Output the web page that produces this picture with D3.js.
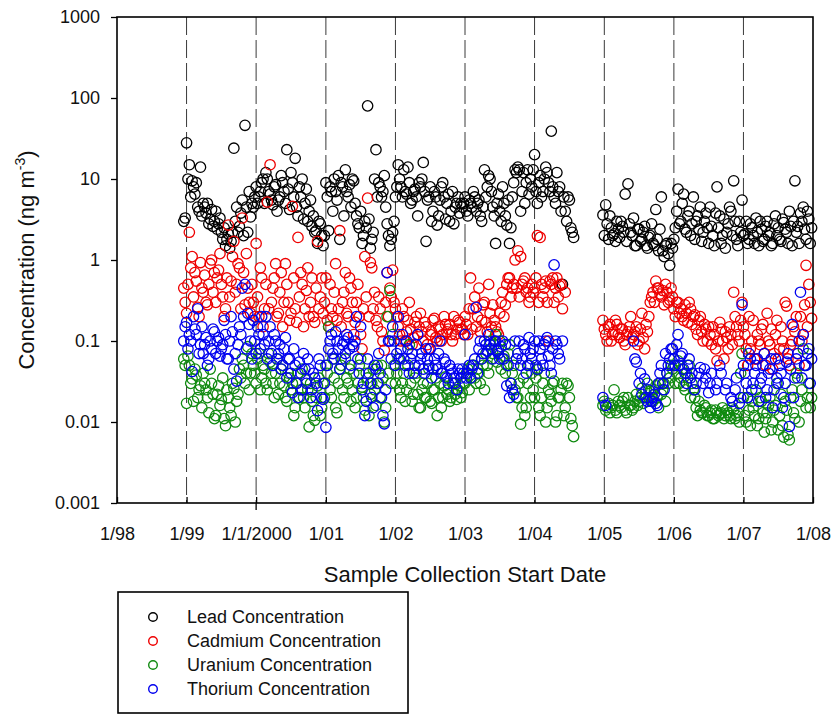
<!DOCTYPE html>
<html>
<head>
<meta charset="utf-8">
<script src="https://cdn.jsdelivr.net/npm/d3@7"></script>
<style>
  html, body { margin: 0; padding: 0; background: #fff; }
  svg { display: block; font-family: "Liberation Sans", Arial, sans-serif; }
</style>
</head>
<body>
<svg id="chart" width="836" height="715"></svg>
<script>
// ---------------- DATA ----------------
// Sample collection start dates (decimal years); second block = interleaved samples
const sampleDates = [
  1998.96,1999.00,1999.04,1999.08,1999.12,1999.16,1999.20,1999.24,1999.28,1999.32,1999.36,1999.40,1999.44,1999.48,1999.52,1999.56,1999.60,1999.64,1999.68,1999.72,1999.76,1999.80,1999.84,1999.88,1999.92,
  1999.96,2000.00,2000.04,2000.08,2000.12,2000.16,2000.20,2000.24,2000.28,2000.32,2000.36,2000.40,2000.44,2000.48,2000.52,2000.56,2000.60,2000.64,2000.68,2000.72,2000.76,2000.80,2000.84,2000.88,2000.92,
  2000.96,2001.00,2001.04,2001.08,2001.12,2001.16,2001.20,2001.24,2001.28,2001.32,2001.36,2001.40,2001.44,2001.48,2001.52,2001.56,2001.60,2001.64,2001.68,2001.72,2001.76,2001.80,2001.84,2001.88,2001.92,
  2001.96,2002.00,2002.04,2002.08,2002.12,2002.16,2002.20,2002.24,2002.28,2002.32,2002.36,2002.40,2002.44,2002.48,2002.52,2002.56,2002.60,2002.64,2002.68,2002.72,2002.76,2002.80,2002.84,2002.88,2002.92,
  2002.96,2003.00,2003.04,2003.08,2003.12,2003.16,2003.20,2003.24,2003.28,2003.32,2003.36,2003.40,2003.44,2003.48,2003.52,2003.56,2003.60,2003.64,2003.68,2003.72,2003.76,2003.80,2003.84,2003.88,2003.92,
  2003.96,2004.00,2004.04,2004.08,2004.12,2004.16,2004.20,2004.24,2004.28,2004.32,2004.36,2004.40,2004.44,2004.48,2004.52,2004.56,
  2004.98,2005.02,2005.06,2005.10,2005.14,2005.18,2005.22,2005.26,2005.30,2005.34,2005.38,2005.42,2005.46,2005.50,2005.54,2005.58,2005.62,2005.66,2005.70,2005.74,2005.78,2005.82,2005.86,2005.90,2005.94,
  2005.98,2006.02,2006.06,2006.10,2006.14,2006.18,2006.22,2006.26,2006.30,2006.34,2006.38,2006.42,2006.46,2006.50,2006.54,2006.58,2006.62,2006.66,2006.70,2006.74,2006.78,2006.82,2006.86,2006.90,2006.94,
  2006.98,2007.02,2007.06,2007.10,2007.14,2007.18,2007.22,2007.26,2007.30,2007.34,2007.38,2007.42,2007.46,2007.50,2007.54,2007.58,2007.62,2007.66,2007.70,2007.74,2007.78,2007.82,2007.86,2007.90,2007.94,2007.98,
  // interleaved
  1998.98,1999.02,1999.06,1999.10,1999.14,1999.18,1999.22,1999.26,1999.30,1999.34,1999.38,1999.42,1999.46,1999.50,1999.54,1999.58,1999.62,1999.66,1999.70,1999.74,1999.78,1999.82,1999.86,1999.90,1999.94,
  1999.98,2000.02,2000.06,2000.10,2000.14,2000.18,2000.22,2000.26,2000.30,2000.34,2000.38,2000.42,2000.46,2000.50,2000.54,2000.58,2000.62,2000.66,2000.70,2000.74,2000.78,2000.82,2000.86,2000.90,2000.94,
  2000.98,2001.02,2001.06,2001.10,2001.14,2001.18,2001.22,2001.26,2001.30,2001.34,2001.38,2001.42,2001.46,2001.50,2001.54,2001.58,2001.62,2001.66,2001.70,2001.74,2001.78,2001.82,2001.86,2001.90,2001.94,
  2001.98,2002.02,2002.06,2002.10,2002.14,2002.18,2002.22,2002.26,2002.30,2002.34,2002.38,2002.42,2002.46,2002.50,2002.54,2002.58,2002.62,2002.66,2002.70,2002.74,2002.78,2002.82,2002.86,2002.90,2002.94,
  2002.98,2003.02,2003.06,2003.10,2003.14,2003.18,2003.22,2003.26,2003.30,2003.34,2003.38,2003.42,2003.46,2003.50,2003.54,2003.58,2003.62,2003.66,2003.70,2003.74,2003.78,2003.82,2003.86,2003.90,2003.94,
  2003.98,2004.02,2004.06,2004.10,2004.14,2004.18,2004.22,2004.26,2004.30,2004.34,2004.38,2004.42,2004.46,2004.50,2004.54,
  2005.00,2005.04,2005.08,2005.12,2005.16,2005.20,2005.24,2005.28,2005.32,2005.36,2005.40,2005.44,2005.48,2005.52,2005.56,2005.60,2005.64,2005.68,2005.72,2005.76,2005.80,2005.84,2005.88,2005.92,2005.96,
  2006.00,2006.04,2006.08,2006.12,2006.16,2006.20,2006.24,2006.28,2006.32,2006.36,2006.40,2006.44,2006.48,2006.52,2006.56,2006.60,2006.64,2006.68,2006.72,2006.76,2006.80,2006.84,2006.88,2006.92,2006.96,
  2007.00,2007.04,2007.08,2007.12,2007.16,2007.20,2007.24,2007.28,2007.32,2007.36,2007.40,2007.44,2007.48,2007.52,2007.56,2007.60,2007.64,2007.68,2007.72,2007.76,2007.80,2007.84,2007.88,2007.92,2007.96
];

// Concentrations (ng m^-3)
const lead = [
  3.0,28,15,9.5,6.5,4.5,14,5.0,3.8,2.8,4.2,3.0,2.4,3.3,1.8,1.5,2.1,1.7,24,4.5,2.6,5.5,46,2.2,3.4,
  4.5,8,6,9,5,10,6.5,4.8,8.5,5.5,11,7,23,4.2,9,18,3.5,6,3.2,7.5,4,2.6,2.2,1.6,2.8,
  1.5,9,2.3,7,10,5.5,1.8,8,13,6,4.5,9.5,3.5,2.5,1.6,3,80,1.4,2.2,23,9,6,11,2.8,1.5,
  2.2,6,15,8,13,6.5,9,5.5,7.5,3.5,8,16,1.7,6,3,7,2.7,5.5,9,3.2,6.5,4,2.8,5,3.8,
  4.5,6,3.5,5,7,4,5.5,3,13,8,10,4.5,1.6,6.5,3,5,2.7,1.6,6,13,14,4,12,9,6.5,
  8,20,5,11,7,14,9,39,6,12,8,0.5,4,6,2.5,1.9,
  3.6,4.8,1.8,2.5,2.1,3,1.9,2.6,6.5,8.7,2.2,3.3,1.5,2.4,1.8,2.6,1.4,2,1.6,4.2,1.3,6,1.1,1.6,0.86,
  1.4,2.5,7.5,3,6.5,2.2,4,2.8,1.8,3.5,4.5,2.2,3.8,1.6,2.6,1.5,8,3.5,2,1.4,2.8,4,9.5,1.8,3,
  5.5,2.1,1.6,2.8,2,3.3,1.5,2.4,1.8,3,2.2,1.6,3.5,2.5,1.7,2.9,2.2,4,1.5,9.5,2.6,3.8,4.5,1.8,3.2,2.5,
  3.3,10,6,8,9,4,3.5,4.5,5,3.2,2.6,4,2.8,2.2,2.5,1.8,1.4,2.2,3,2.2,3.8,2,4.5,7,5,
  6,5,7,10,12,7,5.5,8,4,6,9,5,7.5,12,6,4.5,8,10,5,3,5.5,3.5,2.3,3,2,
  2,6,8,4,7,11,9,3.5,7,8.5,10,5,2.8,4,2,2.5,3.2,1.8,10,6,8,7,4.5,2,1.8,
  3,8,10,6,7,14,5,7,6,9,10,7,5.5,8,4,6,3.5,8,6,5,3,7,4.5,6,5,
  5,4,5.5,4.5,6,5,3.5,4.5,6,11,7,3.5,5,4,8,3.5,5.5,2.5,9,12,13,7,5,13,10,
  13,7,9,6,10,12,7,8,5,7,4,6,3,5.5,2.2,
  2,2.8,3.5,2,1.7,2.4,3,2.2,1.7,2.8,2,1.5,2.4,1.7,2.2,1.5,1.9,2.8,1.5,1.8,2.4,1.3,1.5,1.2,1.6,
  1.8,4,2.8,5,2.4,3.5,2,6,3,2.4,1.7,3,2.5,4.5,2,3.8,2.5,1.6,3.2,2.2,4.5,2,3,1.5,2.2,
  2,3,1.8,2.5,1.6,2.2,3,1.7,2.6,2,1.5,2.8,2,1.8,3.2,2.4,1.6,2.6,3,2.2,1.6,3,2.4,4,1.6
];
const cadmium = [
  0.45,0.22,2.2,1.1,0.7,0.26,0.93,0.4,0.3,0.5,1.0,0.7,0.6,1.2,0.35,0.25,2.7,0.55,1.7,0.5,0.8,3.3,0.28,0.45,0.22,
  0.3,1.6,0.2,0.6,0.25,5.2,15,0.45,0.9,0.22,0.7,0.3,0.5,0.18,4.6,0.25,1.9,0.7,0.15,0.42,0.2,0.6,0.17,1.7,0.35,
  0.22,0.6,0.15,0.25,0.4,0.18,2.3,0.3,0.7,0.2,0.45,0.12,0.3,0.2,0.08,1.1,5.8,0.93,0.25,0.18,0.35,0.13,0.077,0.7,0.45,
  0.75,0.25,0.15,0.1,0.2,0.13,0.3,0.09,0.17,0.12,0.22,0.1,0.15,0.08,0.13,0.19,0.1,0.14,0.12,0.16,0.14,0.12,0.2,0.14,0.17,
  0.14,0.2,0.12,0.6,0.25,0.15,0.45,0.18,0.3,0.13,0.22,0.28,0.15,0.12,0.3,0.2,0.5,0.6,0.45,1.0,1.3,1.1,0.55,0.4,0.3,
  0.5,0.45,2.0,1.9,0.35,0.55,0.1,0.5,0.3,0.6,0.48,0.25,0.4,null,null,null,
  0.18,0.12,0.15,0.1,0.13,0.16,0.11,0.14,0.09,0.13,0.2,0.12,0.15,0.1,0.22,0.08,0.13,0.3,0.4,0.55,0.45,0.35,0.28,0.4,0.32,
  0.35,0.2,0.3,0.25,0.18,0.22,0.3,0.16,0.21,0.12,0.2,0.1,0.14,0.15,0.09,0.12,0.057,0.17,0.1,0.13,0.08,0.12,0.4,0.15,0.1,
  0.3,0.12,0.05,0.08,0.18,0.06,0.1,0.14,0.07,0.22,0.09,0.045,0.12,0.06,0.15,0.08,0.27,0.05,0.1,0.13,0.07,0.2,0.12,0.86,0.5,0.19,
  0.3,0.5,0.8,0.35,0.55,0.2,0.45,0.65,0.28,0.9,0.4,0.3,0.75,0.5,0.2,0.6,0.35,1.1,0.4,0.9,0.25,0.7,1.2,0.3,0.5,
  0.2,0.35,0.8,0.15,0.5,0.25,0.3,0.6,0.2,0.4,0.15,0.9,0.3,0.22,0.6,0.17,0.35,0.5,0.25,0.8,0.3,0.2,0.45,0.25,0.6,
  0.3,0.18,0.5,0.2,0.9,0.25,0.15,0.4,0.22,0.6,0.3,0.17,0.5,0.12,0.25,0.35,0.2,0.8,0.4,0.15,0.25,0.1,0.3,0.2,0.35,
  0.3,0.2,0.12,0.25,0.1,0.18,0.14,0.11,0.2,0.15,0.13,0.17,0.09,0.12,0.18,0.11,0.15,0.1,0.2,0.13,0.16,0.1,0.12,0.18,0.14,
  0.12,0.16,0.25,0.14,0.35,0.2,0.13,0.28,0.17,0.5,0.15,0.18,0.13,0.22,0.4,0.28,0.6,0.35,0.5,0.45,0.35,0.5,0.6,0.45,0.35,
  0.4,0.6,0.3,0.5,0.45,0.3,0.55,0.6,0.45,0.35,0.5,null,null,null,null,
  0.14,0.1,0.16,0.12,0.18,0.12,0.14,0.1,0.12,0.15,0.11,0.13,0.09,0.14,0.11,0.16,0.2,0.35,0.3,0.45,0.38,0.42,0.5,0.3,0.45,
  0.25,0.3,0.22,0.2,0.28,0.17,0.25,0.2,0.14,0.18,0.13,0.16,0.1,0.12,0.15,0.08,0.1,0.14,0.06,0.11,0.15,0.09,0.2,0.12,0.18,
  0.15,0.08,0.2,0.1,0.06,0.12,0.09,0.16,0.05,0.1,0.14,0.07,0.18,0.08,0.1,0.3,0.06,0.09,0.15,0.2,0.05,0.1,0.28,0.15,0.3
];
const uranium = [
  0.06,0.017,0.05,0.034,0.045,0.02,0.028,0.04,0.025,0.013,0.03,0.011,0.022,0.016,0.035,0.009,0.02,0.012,0.026,0.018,0.045,0.06,0.03,0.085,0.04,
  0.05,0.03,0.07,0.035,0.045,0.025,0.055,0.03,0.04,0.022,0.045,0.028,0.018,0.035,0.03,0.015,0.04,0.025,0.02,0.033,0.0087,0.018,0.0105,0.028,0.012,
  0.03,0.05,0.15,0.02,0.035,0.013,0.045,0.025,0.06,0.03,0.018,0.04,0.02,0.05,0.027,0.014,0.035,0.022,0.045,0.016,0.03,0.05,0.01,0.2,0.42,
  0.12,0.03,0.06,0.02,0.04,0.025,0.09,0.018,0.035,0.022,0.015,0.03,0.02,0.045,0.017,0.025,0.012,0.03,0.02,0.036,0.025,0.02,0.03,0.019,0.028,
  0.023,0.03,0.045,0.035,0.05,0.03,0.04,0.06,0.025,0.05,0.1,0.07,0.12,0.08,0.045,0.065,0.05,0.09,0.04,0.025,0.02,0.0094,0.035,0.015,0.05,
  0.04,0.02,0.044,0.012,0.03,0.01,0.025,0.018,0.032,0.012,0.02,0.03,0.015,0.028,0.011,0.0066,
  0.016,0.014,0.017,0.015,0.025,0.013,0.016,0.018,0.014,0.02,0.016,0.015,0.022,0.018,0.026,0.02,0.03,0.024,0.018,0.028,0.015,0.022,0.03,0.04,0.035,
  0.045,0.03,0.057,0.035,0.028,0.04,0.05,0.03,0.02,0.012,0.014,0.013,0.015,0.012,0.014,0.011,0.013,0.0125,0.015,0.012,0.013,0.011,0.014,0.012,0.01,
  0.07,0.012,0.02,0.009,0.015,0.025,0.011,0.018,0.0075,0.013,0.02,0.01,0.016,0.008,0.022,0.0065,0.014,0.006,0.025,0.011,0.035,0.018,0.08,0.015,0.03,0.02,
  0.05,0.065,0.03,0.018,0.038,0.025,0.015,0.03,0.02,0.045,0.022,0.012,0.028,0.019,0.011,0.025,0.015,0.03,0.01,0.022,0.035,0.05,0.04,0.025,0.07,
  0.04,0.06,0.025,0.05,0.03,0.07,0.04,0.02,0.06,0.03,0.05,0.02,0.04,0.025,0.012,0.03,0.02,0.045,0.015,0.025,0.03,0.012,0.02,0.035,0.015,
  0.02,0.04,0.025,0.06,0.015,0.03,0.05,0.02,0.035,0.045,0.025,0.015,0.03,0.06,0.02,0.04,0.012,0.03,0.025,0.05,0.02,0.035,0.015,0.04,0.03,
  0.05,0.04,0.025,0.03,0.018,0.05,0.03,0.022,0.04,0.015,0.025,0.02,0.03,0.018,0.025,0.035,0.02,0.015,0.028,0.022,0.018,0.03,0.022,0.025,0.02,
  0.03,0.04,0.025,0.05,0.035,0.045,0.03,0.05,0.07,0.04,0.06,0.09,0.055,0.1,0.06,0.04,0.07,0.03,0.05,0.02,0.03,0.015,0.012,0.03,0.02,
  0.025,0.035,0.015,0.02,0.04,0.015,0.022,0.03,0.01,0.02,0.025,0.012,0.03,0.02,0.009,
  0.018,0.015,0.013,0.016,0.014,0.018,0.015,0.02,0.013,0.016,0.014,0.018,0.016,0.02,0.017,0.025,0.02,0.018,0.025,0.02,0.03,0.025,0.018,0.03,0.05,
  0.05,0.04,0.03,0.045,0.025,0.035,0.02,0.025,0.015,0.018,0.013,0.016,0.012,0.013,0.011,0.014,0.012,0.013,0.011,0.014,0.012,0.015,0.011,0.013,0.04,
  0.02,0.01,0.014,0.018,0.012,0.009,0.02,0.013,0.011,0.016,0.008,0.014,0.03,0.012,0.009,0.018,0.007,0.02,0.013,0.04,0.01,0.025,0.05,0.02,0.015
];
const thorium = [
  0.1,0.17,0.12,0.042,0.14,0.25,0.09,0.07,0.11,0.06,0.08,0.13,0.1,0.065,0.09,0.12,0.06,0.2,0.045,0.032,0.15,0.45,0.5,0.22,0.1,
  0.18,0.07,0.12,0.2,0.09,0.06,0.15,0.05,0.1,0.07,0.045,0.08,0.035,0.06,0.023,0.05,0.02,0.04,0.07,0.03,0.045,0.025,0.035,0.0138,0.05,
  0.019,0.0086,0.08,0.12,0.06,0.1,0.045,0.09,0.07,0.11,0.05,0.085,0.2,0.04,0.025,0.012,0.06,0.03,0.015,0.045,0.07,0.02,0.0095,0.7,0.1,
  0.15,0.05,0.2,0.08,0.06,0.1,0.04,0.07,0.05,0.12,0.06,0.045,0.08,0.05,0.035,0.06,0.045,0.1,0.04,0.055,0.03,0.045,0.035,0.025,0.04,
  0.045,0.12,0.04,0.035,0.05,0.26,0.08,0.06,0.1,0.075,0.09,0.06,0.1,0.07,0.085,0.06,0.028,0.02,0.025,0.1,0.07,0.05,0.09,0.04,0.11,
  0.06,0.1,0.045,0.08,0.05,0.1,0.065,0.04,0.87,0.09,0.06,0.1,null,null,null,null,
  0.02,0.016,null,null,null,null,null,null,null,null,null,0.1,0.055,0.03,0.022,0.034,0.018,0.015,0.02,0.017,0.03,0.05,0.025,0.04,0.06,
  0.08,0.05,0.12,0.065,0.045,0.03,0.06,0.04,0.025,null,0.047,0.03,0.035,0.023,0.04,null,0.03,0.05,null,0.025,null,0.02,null,0.035,0.017,
  0.28,0.04,0.02,0.06,0.03,0.05,0.018,0.035,0.07,0.025,0.045,0.015,0.06,0.03,0.04,0.02,0.055,0.0088,0.16,0.035,0.07,0.4,0.12,0.05,0.08,0.06,
  0.15,0.08,0.1,0.2,0.12,0.07,0.15,0.09,0.05,0.1,0.14,0.07,0.11,0.08,0.18,0.06,0.1,0.13,0.07,0.09,0.12,0.2,0.08,0.16,0.06,
  0.1,0.15,0.08,0.12,0.2,0.1,0.07,0.12,0.06,0.09,0.05,0.11,0.06,0.04,0.08,0.03,0.055,0.025,0.045,0.06,0.02,0.04,0.03,0.06,0.02,
  0.03,0.05,0.1,0.07,0.13,0.08,0.06,0.1,0.12,0.08,0.09,0.1,0.06,0.15,0.03,0.018,0.04,0.02,0.05,0.03,0.04,0.012,0.025,0.1,0.06,
  0.1,0.07,0.06,0.12,0.05,0.08,0.06,0.04,0.09,0.05,0.07,0.04,0.06,0.08,0.045,0.05,0.07,0.04,0.06,0.035,0.05,0.04,0.03,0.045,0.035,
  0.04,0.035,0.05,0.045,0.06,0.04,0.1,0.07,0.09,0.12,0.08,0.1,0.075,0.06,0.1,0.09,0.05,0.03,0.022,0.06,0.1,0.06,0.08,0.05,0.07,
  0.08,0.05,0.1,0.06,0.09,0.11,0.05,0.08,0.1,0.07,null,null,null,null,null,
  null,null,null,null,null,null,null,null,null,null,null,0.06,null,0.04,null,0.02,0.025,0.018,0.022,0.016,0.04,0.03,0.07,0.05,0.08,
  0.06,0.09,0.05,0.07,0.04,0.05,0.035,null,0.03,0.04,null,0.045,null,0.03,null,0.025,null,0.04,null,0.03,null,0.018,0.025,null,0.02,
  0.05,0.03,0.07,0.025,0.04,0.06,0.03,0.05,0.02,0.04,0.06,0.025,0.035,0.05,0.015,0.03,0.07,0.045,0.02,0.06,0.1,0.035,0.05,0.07,0.03
];

const seriesNames = ["Lead Concentration", "Cadmium Concentration", "Uranium Concentration", "Thorium Concentration"];
const seriesColors = ["#000000", "#ee0000", "#108a10", "#0000ee"];

const xTickYears = [1998, 1999, 2000, 2001, 2002, 2003, 2004, 2005, 2006, 2007, 2008];
const xTickLabels = ["1/98", "1/99", "1/1/2000", "1/01", "1/02", "1/03", "1/04", "1/05", "1/06", "1/07", "1/08"];
const yTickValues = [0.001, 0.01, 0.1, 1, 10, 100, 1000];
const yTickLabels = ["0.001", "0.01", "0.1", "1", "10", "100", "1000"];

// ---------------- CHART ----------------
const svg = d3.select("#chart");
const FONT = "\"Liberation Sans\", Arial, sans-serif";
const plot = { left: 117, right: 813, top: 17, bottom: 503 };

function decYear(v) {
  const y = Math.floor(v);
  const s = new Date(y, 0, 1), e = new Date(y + 1, 0, 1);
  return new Date(+s + (v - y) * (e - s));
}

const x = d3.scaleTime()
  .domain([new Date(1998, 0, 1), new Date(2008, 0, 1)])
  .range([plot.left, plot.right]);
const y = d3.scaleLog()
  .domain([0.001, 1000])
  .range([plot.bottom, plot.top]);

const tickDates = xTickYears.map(yr => new Date(yr, 0, 1));

// dashed vertical reference lines
svg.append("g")
  .selectAll("line")
  .data(tickDates.slice(1, -1))
  .join("line")
  .attr("x1", d => x(d)).attr("x2", d => x(d))
  .attr("y1", plot.top).attr("y2", plot.bottom)
  .attr("stroke", "#3a3a3a")
  .attr("stroke-width", 1)
  .attr("stroke-dasharray", "18,5");

// series
const allSeries = [lead, cadmium, uranium, thorium];
allSeries.forEach((vals, i) => {
  const n = Math.min(vals.length, sampleDates.length);
  const pts = [];
  for (let j = 0; j < n; j++) {
    if (vals[j] != null) pts.push({ date: decYear(sampleDates[j]), v: vals[j] });
  }
  svg.append("g")
    .selectAll("circle")
    .data(pts)
    .join("circle")
    .attr("cx", d => x(d.date))
    .attr("cy", d => y(d.v))
    .attr("r", 5.2)
    .attr("fill", "none")
    .attr("stroke", seriesColors[i])
    .attr("stroke-width", 1.3);
});

// y axis
const yAxis = d3.axisLeft(y)
  .tickValues(yTickValues)
  .tickFormat((d, i) => yTickLabels[i])
  .tickSizeInner(6)
  .tickSizeOuter(0)
  .tickPadding(11);
const gy = svg.append("g")
  .attr("transform", `translate(${plot.left},0)`)
  .call(yAxis);
gy.select(".domain").remove();
gy.selectAll("line").attr("stroke", "#000").attr("stroke-width", 1.3);
gy.selectAll("text").attr("font-size", 18).attr("font-family", FONT).attr("fill", "#111");

// x axis
const xAxis = d3.axisBottom(x)
  .tickValues(tickDates)
  .tickFormat((d, i) => xTickLabels[i])
  .tickSizeInner(-6)
  .tickSizeOuter(0)
  .tickPadding(24);
const gx = svg.append("g")
  .attr("transform", `translate(0,${plot.bottom})`)
  .call(xAxis);
gx.select(".domain").remove();
gx.selectAll("line").attr("stroke", "#000").attr("stroke-width", 1.3);
gx.selectAll("text").attr("font-size", 18).attr("font-family", FONT).attr("fill", "#111");
gx.append("line")
  .attr("x1", x(tickDates[2])).attr("x2", x(tickDates[2]))
  .attr("y1", 0).attr("y2", 7)
  .attr("stroke", "#000").attr("stroke-width", 1.3);

// frame
svg.append("rect")
  .attr("x", plot.left).attr("y", plot.top)
  .attr("width", plot.right - plot.left)
  .attr("height", plot.bottom - plot.top)
  .attr("fill", "none")
  .attr("stroke", "#000")
  .attr("stroke-width", 1.6);

// axis titles
svg.append("text")
  .attr("x", (plot.left + plot.right) / 2)
  .attr("y", 582)
  .attr("text-anchor", "middle")
  .attr("font-size", 22)
  .attr("font-family", FONT)
  .attr("fill", "#111")
  .text("Sample Collection Start Date");

const yt = svg.append("text")
  .attr("transform", `translate(34,${(plot.top + plot.bottom) / 2}) rotate(-90)`)
  .attr("text-anchor", "middle")
  .attr("font-size", 22)
  .attr("font-family", FONT)
  .attr("fill", "#111");
yt.append("tspan").text("Concentration (ng m");
yt.append("tspan").attr("font-size", 14).attr("dy", -9).text("-3");
yt.append("tspan").attr("dy", 9).text(")");

// legend
const lg = svg.append("g");
lg.append("rect")
  .attr("x", 118).attr("y", 592)
  .attr("width", 290).attr("height", 121)
  .attr("fill", "#fff")
  .attr("stroke", "#000")
  .attr("stroke-width", 1.6);
const rowY = d3.scalePoint().domain(seriesNames).range([617, 689]);
seriesNames.forEach((name, i) => {
  lg.append("circle")
    .attr("cx", 153).attr("cy", rowY(name))
    .attr("r", 4.3)
    .attr("fill", "none")
    .attr("stroke", seriesColors[i])
    .attr("stroke-width", 1.4);
  lg.append("text")
    .attr("x", 187).attr("y", rowY(name))
    .attr("dy", "0.35em")
    .attr("font-size", 18)
    .attr("font-family", FONT)
    .attr("fill", "#111")
    .text(name);
});
</script>
</body>
</html>
